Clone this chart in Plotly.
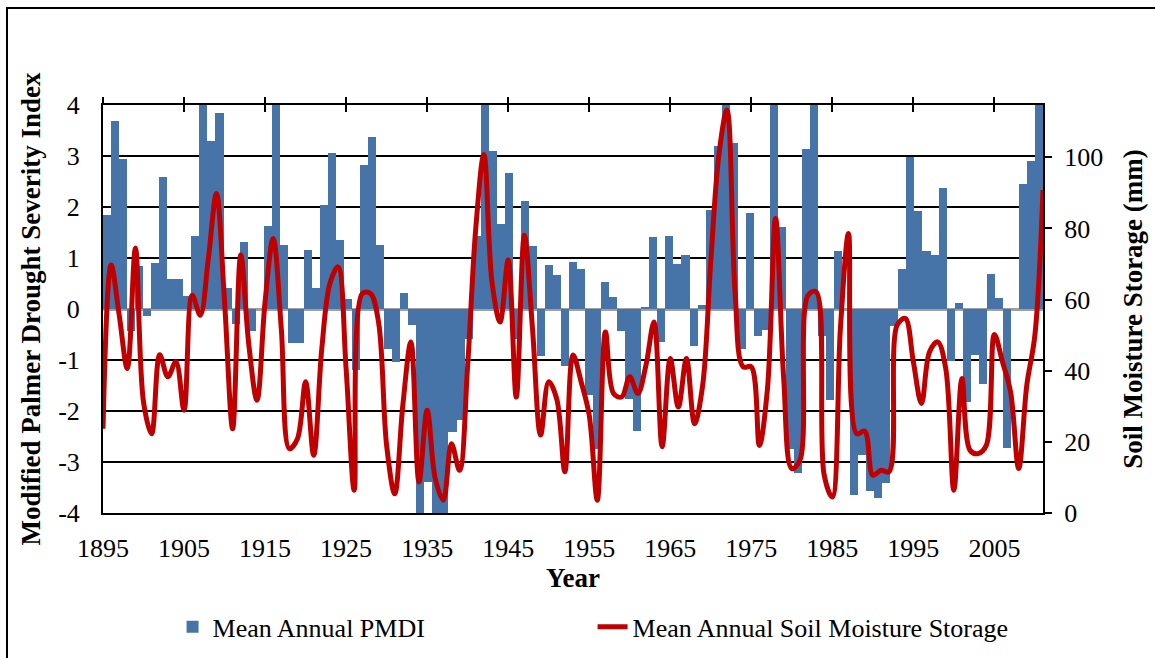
import plotly.graph_objects as go

years = list(range(1895, 2012))

pmdi = [
    1.84, 3.68, 2.95, -0.43, 0.84, -0.14, 0.91, 2.59, 0.58, 0.58,   # 1895-1904
    0.25, 1.44, 4.30, 3.29, 3.84, 0.42, -0.30, 1.31, -0.43, 0.00,   # 1905-1914
    1.62, 4.30, 1.25, -0.66, -0.66, 1.16, 0.42, 2.03, 3.06, 1.36,   # 1915-1924
    0.19, -1.20, 2.82, 3.37, 1.26, -0.78, -1.03, 0.31, -0.32, -4.30,  # 1925-1934
    -3.40, -4.30, -4.30, -2.41, -2.18, -0.58, 1.43, 4.30, 3.09, 1.67,  # 1935-1944
    2.66, -0.58, 2.12, 1.24, -0.93, 0.87, 0.66, -1.12, 0.93, 0.79,   # 1945-1954
    -1.69, -2.74, 0.53, 0.23, -0.43, -1.76, -2.39, 0.04, 1.41, -0.65,  # 1955-1964
    1.43, 0.89, 1.05, -0.73, 0.07, 1.95, 3.20, 4.30, 3.26, -0.79,   # 1965-1974
    1.89, -0.53, -0.42, 4.30, 1.61, -2.75, -3.22, 3.14, 4.30, -0.52,  # 1975-1984
    -1.79, 1.13, 0.00, -3.64, -2.86, -3.57, -3.71, -3.41, -0.34, 0.78,  # 1985-1994
    2.99, 1.93, 1.14, 1.06, 2.37, -1.01, 0.12, -1.82, -0.91, -1.47,  # 1995-2004
    0.69, 0.22, -2.73, 0.00, 2.46, 2.90, 4.30                        # 2005-2011
]

soil = [
    23.7, 69.7, 55.6, 40.6, 74.5, 31.2, 22.3, 44.5, 38.3, 42.5,   # 1895-1904
    28.9, 61.2, 55.6, 71.5, 89.8, 59.4, 23.7, 72.5, 47.2, 31.7,   # 1905-1914
    59.4, 77.2, 51.9, 18.1, 20.9, 36.9, 16.2, 46.2, 64.5, 69.2,   # 1915-1924
    40.6, 6.4, 61.7, 61.7, 53.7, 19.0, 5.4, 30.3, 48.1, 8.7,      # 1925-1934
    28.9, 9.7, 3.6, 19.5, 12.0, 41.5, 80.0, 100.8, 65.0, 53.7,    # 1935-1944
    71.1, 32.6, 78.1, 51.9, 21.9, 36.9, 32.0, 11.6, 44.4, 36.9,   # 1945-1954
    27.5, 3.6, 50.9, 33.6, 32.6, 38.3, 33.6, 41.5, 53.7, 18.6,    # 1955-1964
    43.4, 29.8, 43.4, 25.1, 35.9, 70.6, 100.6, 113.3, 62.2, 41.1,  # 1965-1974
    41.1, 19.0, 35.0, 82.8, 37.8, 12.5, 14.8, 61.2, 62.2, 10.6,   # 1975-1984
    4.5, 51.9, 78.6, 22.3, 23.0, 10.6, 12.0, 11.6, 52.8, 54.7,    # 1985-1994
    42.5, 30.8, 45.3, 48.1, 40.6, 6.4, 37.8, 17.6, 16.7, 19.0,    # 1995-2004
    50.2, 42.5, 34.0, 12.5, 35.9, 50.0, 90.8                      # 2005-2011
]

tick_years = list(range(1895, 2006, 10))
pmdi_ticks = list(range(-4, 5))
soil_ticks = list(range(0, 101, 20))

SERIF = "Liberation Serif"
BAR_COLOR = "#4674A9"
LINE_COLOR = "#C00000"

fig = go.Figure()

fig.add_trace(go.Bar(
    x=years, y=pmdi, name="Mean Annual PMDI",
    marker=dict(color=BAR_COLOR, line=dict(width=0)),
    width=1.0, xaxis="x", yaxis="y",
))

fig.add_trace(go.Scatter(
    x=years, y=soil, name="Mean Annual Soil Moisture Storage",
    mode="lines", line=dict(color=LINE_COLOR, width=5, shape="spline", smoothing=1.0),
    xaxis="x2", yaxis="y2",
))

# empty traces so the tick-only top axes exist
fig.add_trace(go.Scatter(x=[], y=[], xaxis="x3", yaxis="y", showlegend=False, hoverinfo="skip"))
fig.add_trace(go.Scatter(x=[], y=[], xaxis="x4", yaxis="y", showlegend=False, hoverinfo="skip"))

fig.update_layout(
    width=1155, height=658,
    margin=dict(l=103, r=112, t=105, b=145, pad=0, autoexpand=False),
    paper_bgcolor="white", plot_bgcolor="white",
    font=dict(family=SERIF, size=26, color="black"),
    bargap=0,
    showlegend=True,
    legend=dict(
        orientation="h", x=0.074, y=-0.279, xanchor="left", yanchor="middle",
        entrywidth=375, entrywidthmode="pixels",
        font=dict(family=SERIF, size=26, color="black"),
        bgcolor="rgba(0,0,0,0)", itemwidth=30, tracegroupgap=0,
    ),
    xaxis=dict(
        range=[years[0] - 0.5, years[-1] + 0.5], visible=False, fixedrange=True,
    ),
    xaxis2=dict(
        overlaying="x", side="bottom", anchor="y2",
        range=[years[0], years[-1]],
        tickvals=tick_years, ticktext=[str(t) for t in tick_years],
        ticks="", showgrid=False, zeroline=False,
        showline=True, linecolor="black", linewidth=2, mirror=True,
        ticklabelstandoff=11,
        tickfont=dict(family=SERIF, size=26, color="black"),
        title=dict(text="<b>Year</b>", font=dict(family=SERIF, size=27, color="black"), standoff=6),
    ),
    xaxis3=dict(
        overlaying="x", side="top", anchor="y",
        range=[years[0], years[-1]], tickvals=tick_years,
        ticks="outside", ticklen=7, tickwidth=2, tickcolor="black",
        showticklabels=False, showgrid=False, zeroline=False, showline=False,
    ),
    xaxis4=dict(
        overlaying="x", side="top", anchor="y",
        range=[years[0], years[-1]], tickvals=tick_years,
        ticks="inside", ticklen=7, tickwidth=2, tickcolor="black",
        showticklabels=False, showgrid=False, zeroline=False, showline=False,
    ),
    yaxis=dict(
        range=[-4, 4], tickvals=pmdi_ticks, ticktext=[str(v) for v in pmdi_ticks],
        showgrid=True, gridcolor="black", gridwidth=1.5,
        zeroline=True, zerolinecolor="#A0A0A0", zerolinewidth=2.5,
        showline=True, linecolor="black", linewidth=2, mirror=True,
        ticks="", ticklabelstandoff=16,
        tickfont=dict(family=SERIF, size=26, color="black"),
        title=dict(text="<b>Modified Palmer Drought Severity Index</b>",
                   font=dict(family=SERIF, size=27, color="black"), standoff=10),
    ),
    yaxis2=dict(
        overlaying="y", side="right", anchor="x2",
        range=[0, 114.7], tickvals=soil_ticks, ticktext=[str(v) for v in soil_ticks],
        showgrid=False, zeroline=False, showline=False,
        ticks="outside", ticklen=8, tickwidth=2, tickcolor="black",
        ticklabelstandoff=7,
        tickfont=dict(family=SERIF, size=26, color="black"),
        title=dict(text="<b>Soil Moisture Storage (mm)</b>",
                   font=dict(family=SERIF, size=27, color="black"), standoff=20),
    ),
    shapes=[dict(
        type="rect", xref="paper", yref="paper",
        x0=(7 - 103) / 940, x1=1.3, y0=-0.6, y1=(513 - 8) / 408,
        line=dict(color="black", width=2), fillcolor="rgba(0,0,0,0)", layer="below",
    )],
)

fig.write_html(
    "out.html",
    config={"displayModeBar": False},
    post_script="document.body.style.margin='0';",
)
